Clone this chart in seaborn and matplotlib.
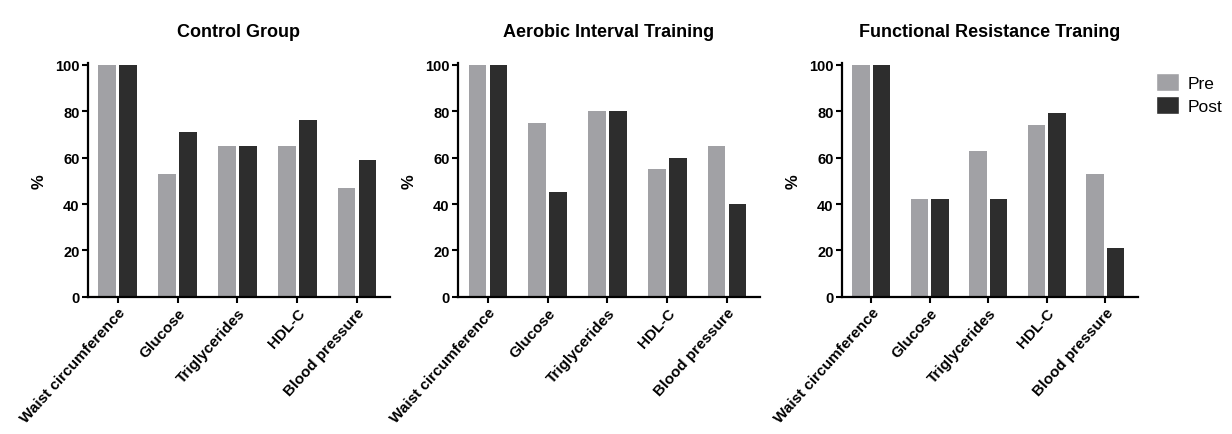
import pandas as pd
import matplotlib
matplotlib.use("Agg")
import matplotlib.pyplot as plt
import seaborn as sns
from matplotlib.patches import Patch

# data
categories = ["Waist circumference", "Glucose", "Triglycerides", "HDL-C", "Blood pressure"]
groups = ["Control Group", "Aerobic Interval Training", "Functional Resistance Traning"]
control_pre = [100, 53, 65, 65, 47]
control_post = [100, 71, 65, 76, 59]
aerobic_pre = [100, 75, 80, 55, 65]
aerobic_post = [100, 45, 80, 60, 40]
functional_pre = [100, 42, 63, 74, 53]
functional_post = [100, 42, 42, 79, 21]
yticks = [0, 20, 40, 60, 80, 100]

series = {
    "Control Group": (control_pre, control_post),
    "Aerobic Interval Training": (aerobic_pre, aerobic_post),
    "Functional Resistance Traning": (functional_pre, functional_post),
}

rows = []
for g in groups:
    pre, post = series[g]
    for c, a, b in zip(categories, pre, post):
        rows.append({"group": g, "measure": c, "time": "Pre", "pct": a})
        rows.append({"group": g, "measure": c, "time": "Post", "pct": b})
df = pd.DataFrame(rows)

sns.set_style("ticks")
plt.rcParams["font.family"] = ["Liberation Sans", "DejaVu Sans"]
plt.rcParams["text.color"] = "black"
plt.rcParams["axes.labelcolor"] = "black"
plt.rcParams["xtick.color"] = "black"
plt.rcParams["ytick.color"] = "black"

colors = {"Pre": "#a1a1a5", "Post": "#2d2d2d"}

fig = plt.figure(figsize=(12.32, 4.35), dpi=100)
positions = [
    [0.0714, 0.315, 0.245, 0.537],
    [0.3718, 0.315, 0.245, 0.537],
    [0.6834, 0.315, 0.240, 0.537],
]

for g, pos in zip(groups, positions):
    ax = fig.add_axes(pos)
    sns.barplot(data=df[df["group"] == g], x="measure", y="pct", hue="time",
                order=categories, hue_order=["Pre", "Post"], palette=colors,
                width=0.7, gap=0.15, errorbar=None, legend=False, ax=ax,
                edgecolor="none")
    ax.set_xlim(-0.5, 4.55)
    ax.set_ylim(0, 100.5)
    ax.set_yticks(yticks)
    ax.set_title(g, fontsize=13, fontweight="bold", pad=20)
    ax.set_xlabel("")
    ax.set_ylabel("%", fontsize=12, fontweight="bold", labelpad=6)
    ax.set_xticks(range(len(categories)))
    ax.set_xticklabels(categories, rotation=48, ha="right", rotation_mode="anchor",
                       fontsize=11, fontweight="bold")
    for lab in ax.get_yticklabels():
        lab.set_fontweight("bold")
        lab.set_fontsize(10.5)
    sns.despine(ax=ax)
    for s in ["left", "bottom"]:
        ax.spines[s].set_linewidth(1.6)
        ax.spines[s].set_color("black")
    ax.tick_params(axis="both", width=1.5, length=4, color="black", pad=2)

handles = [Patch(facecolor=colors["Pre"], label="Pre"),
           Patch(facecolor=colors["Post"], label="Post")]
fig.legend(handles=handles, loc="upper left", bbox_to_anchor=(0.926, 0.865),
           frameon=False, fontsize=12.5, handlelength=1.3, handleheight=1.2,
           handletextpad=0.5, labelspacing=0.3)

fig.savefig("out.png", dpi=100)
